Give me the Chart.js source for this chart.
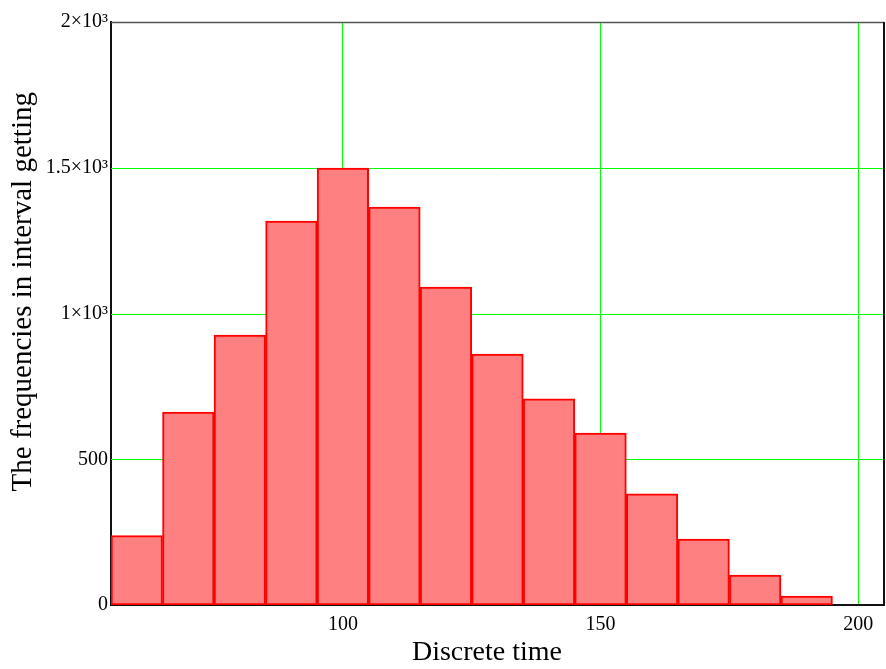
<!DOCTYPE html>
<html>
<head>
<meta charset="utf-8">
<script src="https://cdn.jsdelivr.net/npm/chart.js@4.4.1/dist/chart.umd.min.js"></script>
<style>
html,body{margin:0;padding:0;background:#fff;}
#wrap{width:886px;height:669px;}
</style>
</head>
<body>
<div id="wrap"><canvas id="c" width="886" height="669"></canvas></div>
<script>
const binCenters = [60, 70, 80, 90, 100, 110, 120, 130, 140, 150, 160, 170, 180, 190];
const frequencies = [238, 662, 926, 1317, 1499, 1365, 1091, 861, 707, 590, 381, 226, 103, 31];
const xTicks = [100, 150, 200];
const yTicks = [0, 500, 1000, 1500, 2000];
const yTickLabels = ['0', '500', '1\u00d710\u00b3', '1.5\u00d710\u00b3', '2\u00d710\u00b3'];
const xTitle = 'Discrete time';
const yTitle = 'The frequencies in interval getting';

const serif = "'Liberation Serif', 'Times New Roman', serif";

const hGridPlugin = {
  id: 'hgrid',
  beforeDatasetsDraw(chart) {
    const {ctx, chartArea: a} = chart;
    const ys = chart.scales.y;
    ctx.save();
    ctx.strokeStyle = '#00ff00';
    ctx.lineWidth = 1;
    ys.ticks.forEach(t => {
      if (t.value <= 0 || t.value >= 2000) return;
      const py = Math.round(ys.getPixelForValue(t.value)) + 0.5;
      ctx.beginPath();
      ctx.moveTo(a.left, py);
      ctx.lineTo(a.right, py);
      ctx.stroke();
    });
    ctx.restore();
  }
};

const framePlugin = {
  id: 'frame',
  afterDatasetsDraw(chart) {
    const {ctx, chartArea: a} = chart;
    ctx.save();
    ctx.strokeStyle = '#555';
    ctx.lineWidth = 1.5;
    ctx.beginPath();
    ctx.moveTo(a.left, a.top + 0.5);
    ctx.lineTo(a.right, a.top + 0.5);
    ctx.stroke();
    ctx.strokeStyle = '#111';
    ctx.lineWidth = 2;
    ctx.beginPath();
    ctx.moveTo(a.right, a.top);
    ctx.lineTo(a.right, a.bottom);
    ctx.stroke();
    ctx.restore();
  }
};

new Chart(document.getElementById('c'), {
  type: 'bar',
  data: {
    datasets: [{
      data: binCenters.map((x, i) => ({x: x, y: frequencies[i]})),
      backgroundColor: '#ff8080',
      borderColor: '#ff0000',
      borderWidth: 2,
      barPercentage: 1,
      categoryPercentage: 1,
      borderSkipped: false
    }]
  },
  options: {
    responsive: false,
    animation: false,
    layout: {padding: {top: 22, right: 2, left: 0, bottom: 0}},
    plugins: {legend: {display: false}, tooltip: {enabled: false}},
    scales: {
      x: {
        type: 'linear',
        offset: false,
        min: 55, max: 205,
        afterBuildTicks(s) { s.ticks = xTicks.map(v => ({value: v})); },
        afterFit(s) { s.height = 64; },
        grid: {color: '#00ff00', lineWidth: 1, drawTicks: false, offset: false},
        border: {color: '#111', width: 2},
        ticks: {color: '#000', font: {family: serif, size: 20}, padding: 8, maxRotation: 0},
        title: {display: true, text: xTitle + '   ', color: '#000', font: {family: serif, size: 28}, padding: {top: 0, bottom: 0}}
      },
      y: {
        min: 0, max: 2000,
        afterBuildTicks(s) { s.ticks = yTicks.map(v => ({value: v})); },
        afterFit(s) { s.width = 111; },
        grid: {display: false, drawTicks: false},
        border: {color: '#111', width: 2},
        ticks: {
          color: '#000', font: {family: serif, size: 20}, padding: 3,
          callback: (v) => yTickLabels[yTicks.indexOf(v)]
        },
        title: {display: true, text: '      ' + yTitle, color: '#000', font: {family: serif, size: 29}, padding: {top: 6, bottom: 0}}
      }
    }
  },
  plugins: [hGridPlugin, framePlugin]
});
</script>
</body>
</html>
